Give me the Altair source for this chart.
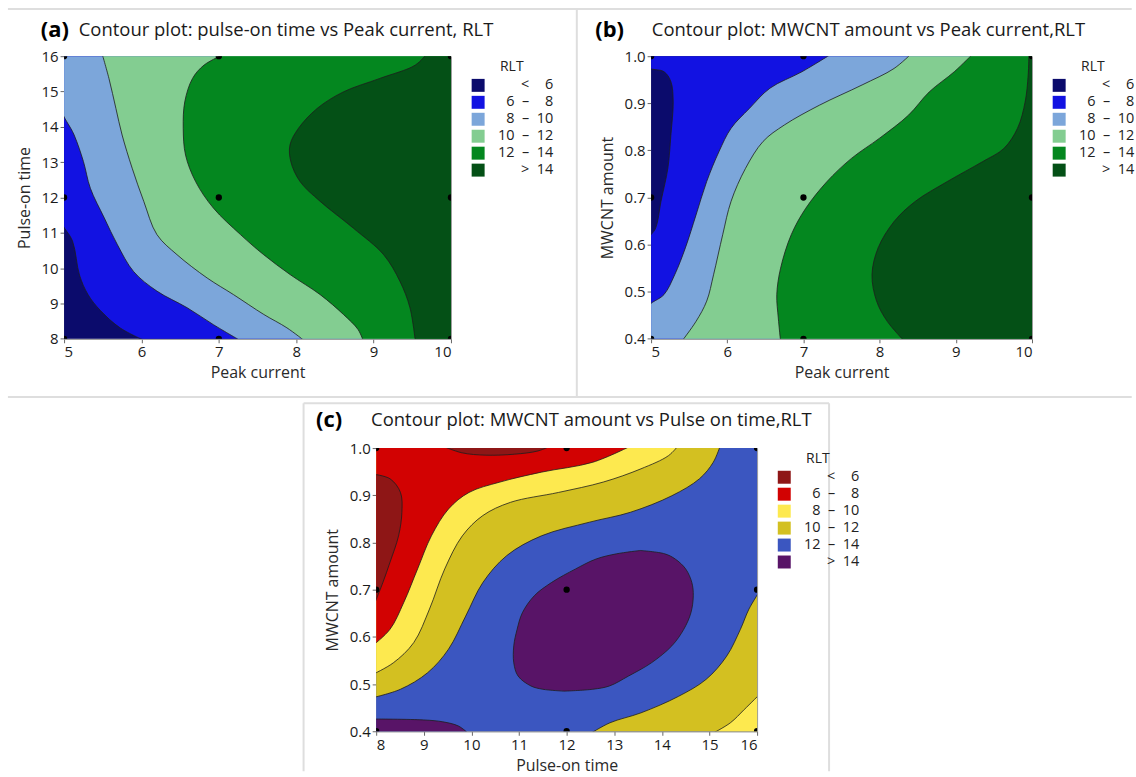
import altair as alt
import pandas as pd

FONT = "Open Sans"
NB = "\u00a0"
FIG = "\u2007"

# ---------------- legend categories and colours ----------------
BANDS = [f"<{NB*2}{FIG}6", f"6{NB*2}–{NB*2}{FIG}8", f"8{NB*2}–{NB*2}10",
         f"10{NB*2}–{NB*2}12", f"12{NB*2}–{NB*2}14", f">{NB*2}14"]
GREEN_COLORS = ["#0b0b6c", "#1212e2", "#7ca6da", "#83cd91", "#04871f", "#045016"]
RED_COLORS = ["#8e1616", "#d20202", "#fde94f", "#d3c021", "#3b56c0", "#581467"]

# ---------------- panel (a): Peak current (x) vs Pulse-on time (y) ----------------
A_XDOM = [5, 10]
A_YDOM = [8, 16]
A_XTICKS = [5, 6, 7, 8, 9, 10]
A_YTICKS = [8, 9, 10, 11, 12, 13, 14, 15, 16]
A_C6_Y = [8.0, 8.3, 8.8, 9.25, 9.8, 10.76, 11.42, 16.0]
A_C6_X = [6.07, 5.73, 5.47, 5.31, 5.2, 5.11, 5.0, 5.0]
A_C8_Y = [8.0, 8.4, 8.88, 9.35, 9.9, 10.66, 11.42, 12.26, 13.02, 13.77, 14.57, 16.0]
A_C8_X = [7.3, 6.93, 6.59, 6.2, 5.9, 5.69, 5.52, 5.34, 5.25, 5.13, 5.0, 5.0]
A_C10_Y = [8.0, 8.31, 8.69, 9.25, 9.72, 10.38, 10.95, 11.89, 12.83, 13.77, 14.52, 15.37, 16.0]
A_C10_X = [8.12, 7.88, 7.58, 7.19, 6.85, 6.46, 6.2, 6.03, 5.88, 5.75, 5.67, 5.58, 5.49]
A_C12_Y = [8.0, 8.26, 8.69, 9.25, 9.82, 10.38, 10.95, 11.7, 12.45, 13.2, 13.96, 14.71, 15.37, 15.75, 16.0]
A_C12_X = [8.87, 8.8, 8.61, 8.31, 7.92, 7.58, 7.28, 6.93, 6.7, 6.57, 6.54, 6.56, 6.66, 6.81, 7.09]
A_C14_Y = [8.0, 8.88, 9.63, 10.38, 11.13, 11.89, 12.45, 13.02, 13.49, 13.96, 14.52, 14.99, 15.37, 15.75, 16.0]
A_C14_X = [9.54, 9.47, 9.34, 9.13, 8.74, 8.31, 8.05, 7.93, 7.92, 8.03, 8.27, 8.61, 9.08, 9.54, 9.69]
A_PTS_X = [5, 7, 10]
A_PTS_Y = [8, 12, 16]

# ---------------- panel (b): Peak current (x) vs MWCNT amount (y) ----------------
B_XDOM = [5, 10]
B_YDOM = [0.4, 1.0]
B_XTICKS = [5, 6, 7, 8, 9, 10]
B_YTICKS = [0.4, 0.5, 0.6, 0.7, 0.8, 0.9, 1.0]
B_C6_Y = [0.4, 0.607, 0.635, 0.692, 0.762, 0.833, 0.903, 0.946, 0.967, 0.977, 1.0]
B_C6_X = [5.0, 5.0, 5.06, 5.13, 5.22, 5.26, 5.29, 5.26, 5.17, 5.0, 5.0]
B_C8_Y = [0.4, 0.466, 0.494, 0.536, 0.593, 0.663, 0.734, 0.797, 0.847, 0.889, 0.932, 0.967, 1.0]
B_C8_X = [5.0, 5.0, 5.17, 5.31, 5.45, 5.59, 5.73, 5.89, 6.05, 6.29, 6.56, 6.98, 7.38]
B_C10_Y = [0.4, 0.437, 0.48, 0.536, 0.621, 0.692, 0.762, 0.819, 0.854, 0.896, 0.939, 0.974, 1.0]
B_C10_X = [5.40, 5.59, 5.73, 5.82, 5.94, 6.05, 6.24, 6.47, 6.75, 7.21, 7.77, 8.19, 8.42]
B_C12_Y = [0.4, 0.444, 0.494, 0.55, 0.621, 0.677, 0.734, 0.783, 0.826, 0.875, 0.924, 0.967, 1.0]
B_C12_X = [6.70, 6.67, 6.65, 6.70, 6.84, 7.03, 7.31, 7.63, 8.0, 8.38, 8.65, 8.98, 9.23]
B_C14_Y = [0.4, 0.437, 0.48, 0.536, 0.593, 0.649, 0.692, 0.734, 0.776, 0.804, 0.847, 0.903, 0.96, 1.0]
B_C14_X = [8.33, 8.10, 7.96, 7.90, 7.98, 8.19, 8.47, 8.89, 9.35, 9.63, 9.81, 9.91, 9.95, 9.96]
B_PTS_X = [5, 7, 10]
B_PTS_Y = [0.4, 0.7, 1.0]

# ---------------- panel (c): Pulse-on time (x) vs MWCNT amount (y) ----------------
C_XDOM = [8, 16]
C_YDOM = [0.4, 1.0]
C_XTICKS = [8, 9, 10, 11, 12, 13, 14, 15, 16]
C_YTICKS = [0.4, 0.5, 0.6, 0.7, 0.8, 0.9, 1.0]
C_TL12_Y = [0.471, 0.489, 0.524, 0.574, 0.644, 0.715, 0.772, 0.814, 0.843, 0.864, 0.899, 0.935, 0.970, 1.0]
C_TL12_X = [8.0, 8.51, 9.08, 9.52, 9.88, 10.24, 10.74, 11.47, 12.48, 13.34, 14.21, 14.79, 15.08, 15.23]
C_TL10_Y = [0.520, 0.545, 0.588, 0.659, 0.744, 0.814, 0.857, 0.885, 0.906, 0.928, 0.956, 0.984, 1.0]
C_TL10_X = [8.0, 8.36, 8.79, 9.12, 9.44, 9.81, 10.24, 10.82, 11.83, 12.77, 13.56, 14.14, 14.35]
C_TL8_Y = [0.581, 0.616, 0.673, 0.744, 0.814, 0.871, 0.906, 0.928, 0.949, 0.970, 1.0]
C_TL8_X = [8.0, 8.29, 8.58, 8.87, 9.16, 9.52, 9.95, 10.6, 11.47, 12.55, 13.38]
C_TL6_Y = [0.659, 0.715, 0.758, 0.814, 0.864, 0.906, 0.935, 0.945]
C_TL6_X = [8.0, 8.14, 8.29, 8.47, 8.54, 8.51, 8.29, 8.0]
C_TOP6_X = [9.35, 9.8, 10.3, 10.9, 11.4, 11.7]
C_TOP6_Y = [1.0, 0.99, 0.985, 0.987, 0.994, 1.0]
C_BR12_Y = [0.4, 0.418, 0.439, 0.474, 0.51, 0.559, 0.616, 0.659, 0.701]
C_BR12_X = [12.48, 12.91, 13.56, 14.35, 14.93, 15.36, 15.65, 15.83, 16.0]
C_BR10_Y = [0.4, 0.418, 0.446, 0.481]
C_BR10_X = [15.04, 15.44, 15.73, 16.0]
C_E14_Y = [0.485, 0.489, 0.496, 0.517, 0.545, 0.581, 0.616, 0.651, 0.687, 0.715, 0.744, 0.765, 0.776, 0.783]
C_E14_XL = [11.95, 11.5, 11.25, 10.98, 10.89, 10.89, 10.96, 11.07, 11.32, 11.68, 12.19, 12.62, 13.05, 13.55]
C_E14_XR = [11.95, 12.55, 12.9, 13.3, 13.78, 14.21, 14.46, 14.61, 14.66, 14.63, 14.5, 14.28, 14.06, 13.55]
C_S14_Y = [0.4, 0.411, 0.42, 0.424, 0.426]
C_S14_X = [9.95, 9.73, 9.4, 9.0, 8.0]
C_PTS_X = [8, 12, 16]
C_PTS_Y = [0.4, 0.7, 1.0]

LINE = "#1e1e1e"
BOX = "#dedede"


def edge(vals, dom):
    """push values lying on the plot border just outside it (so border strokes get clipped)"""
    lo, hi = dom
    e = (hi - lo) * 0.01
    return [lo - e if v <= lo else (hi + e if v >= hi else v) for v in vals]


def make_panel(xdom, ydom, xticks, yticks, yfmt, xtitle, ytitle, colors, layers, pts,
               w, h, letter, title, letter_dx, title_dx, title_dy, extra=None):
    xs = alt.Scale(domain=xdom, nice=False, zero=False)
    ys = alt.Scale(domain=ydom, nice=False, zero=False)
    xa = alt.Axis(values=xticks, format="d", title=xtitle)
    ya = alt.Axis(values=yticks, format=yfmt, title=ytitle)
    leg = alt.Legend(title="RLT", orient="none", legendX=w + 20, legendY=4,
                     symbolType="square", symbolSize=169, symbolStrokeWidth=0,
                     labelAlign="right", labelOffset=68, titleAnchor="middle",
                     titleFontWeight="normal", titleFontSize=14, labelFontSize=14.5,
                     rowPadding=2, padding=0, titlePadding=4,
                     labelFont=FONT, titleFont=FONT, labelColor="#222", titleColor="#222")
    col = alt.Color("band:N", scale=alt.Scale(domain=BANDS, range=colors), legend=leg)
    out = []
    for kind, a, b, c, band in layers:
        if kind == "h":
            df = pd.DataFrame({"y": edge(a, ydom), "x": edge(b, xdom), "x2": edge(c, xdom), "band": band})
            m = alt.Chart(df).mark_area(orient="horizontal", interpolate="catmull-rom", clip=True,
                                        stroke=LINE, strokeWidth=0.8)
            out.append(m.encode(y=alt.Y("y:Q", scale=ys, axis=ya), x=alt.X("x:Q", scale=xs, axis=xa),
                                x2="x2:Q", color=col))
        else:
            df = pd.DataFrame({"x": edge(a, xdom), "y": edge(b, ydom), "y2": edge(c, ydom), "band": band})
            m = alt.Chart(df).mark_area(orient="vertical", interpolate="catmull-rom", clip=True,
                                        stroke=LINE, strokeWidth=0.8)
            out.append(m.encode(x=alt.X("x:Q", scale=xs, axis=xa), y=alt.Y("y:Q", scale=ys, axis=ya),
                                y2="y2:Q", color=col))
    px, py = pts
    dots = pd.DataFrame([{"x": a, "y": b} for a in px for b in py])
    out.append(alt.Chart(dots).mark_circle(size=40, color="black", opacity=1, clip=True).encode(
        x=alt.X("x:Q", scale=xs, axis=xa), y=alt.Y("y:Q", scale=ys, axis=ya)))
    one = pd.DataFrame({"k": [0]})
    out.append(alt.Chart(one).mark_text(text=letter, align="left", baseline="middle", fontSize=22,
                                        fontWeight="bold", font=FONT, color="black").encode(
        x=alt.value(letter_dx), y=alt.value(title_dy)))
    out.append(alt.Chart(one).mark_text(text=title, align="left", baseline="middle", fontSize=18.5,
                                        font=FONT, color="#1a1a1a").encode(
        x=alt.value(title_dx), y=alt.value(title_dy)))
    for (x1, x2, y1, y2) in (extra or []):
        out.append(alt.Chart(one).mark_rule(color=BOX, strokeWidth=2).encode(
            x=alt.value(x1), x2=alt.value(x2), y=alt.value(y1), y2=alt.value(y2)))
    return alt.layer(*out).properties(width=w, height=h)


def std_layers(c6, c8, c10, c12, c14, xdom, ydom):
    full_y = [ydom[0], ydom[1]]
    L = [("h", full_y, [xdom[0]] * 2, [xdom[1]] * 2, BANDS[0])]
    for (yy, xx), band in zip([c6, c8, c10, c12, c14], BANDS[1:]):
        L.append(("h", yy, xx, [xdom[1]] * len(yy), band))
    return L


A_layers = std_layers((A_C6_Y, A_C6_X), (A_C8_Y, A_C8_X), (A_C10_Y, A_C10_X),
                      (A_C12_Y, A_C12_X), (A_C14_Y, A_C14_X), A_XDOM, A_YDOM)
B_layers = std_layers((B_C6_Y, B_C6_X), (B_C8_Y, B_C8_X), (B_C10_Y, B_C10_X),
                      (B_C12_Y, B_C12_X), (B_C14_Y, B_C14_X), B_XDOM, B_YDOM)
C_layers = [
    ("h", C_YDOM, [C_XDOM[0]] * 2, [C_XDOM[1]] * 2, BANDS[4]),
    ("h", C_TL12_Y, [C_XDOM[0]] * len(C_TL12_Y), C_TL12_X, BANDS[3]),
    ("h", C_TL10_Y, [C_XDOM[0]] * len(C_TL10_Y), C_TL10_X, BANDS[2]),
    ("h", C_TL8_Y, [C_XDOM[0]] * len(C_TL8_Y), C_TL8_X, BANDS[1]),
    ("h", C_TL6_Y, [C_XDOM[0]] * len(C_TL6_Y), C_TL6_X, BANDS[0]),
    ("v", C_TOP6_X, C_TOP6_Y, [C_YDOM[1]] * len(C_TOP6_X), BANDS[0]),
    ("h", C_BR12_Y, C_BR12_X, [C_XDOM[1]] * len(C_BR12_Y), BANDS[3]),
    ("h", C_BR10_Y, C_BR10_X, [C_XDOM[1]] * len(C_BR10_Y), BANDS[2]),
    ("h", C_E14_Y, C_E14_XL, C_E14_XR, BANDS[5]),
    ("h", C_S14_Y, [C_XDOM[0]] * len(C_S14_Y), C_S14_X, BANDS[5]),
]

# panel boxes (page decoration), in pixels relative to each plot's origin
A_BOX = [(-56.3, 1070.7, -47.3, -47.3), (514.2, 514.2, -47.3, 341.7), (-56.3, 1070.7, 341.7, 341.7)]
C_BOX = [(-72.8, 454.2, -45, -45), (-72.8, -72.8, -45, 324), (454.2, 454.2, -45, 324)]

A = make_panel(A_XDOM, A_YDOM, A_XTICKS, A_YTICKS, "d", "Peak current", "Pulse-on time", GREEN_COLORS,
               A_layers, (A_PTS_X, A_PTS_Y), 388, 283.4, "(a)",
               "Contour plot: pulse-on time vs Peak current, RLT", -23.3, 14.7, -26.3, A_BOX)
B = make_panel(B_XDOM, B_YDOM, B_XTICKS, B_YTICKS, ".1f", "Peak current", "MWCNT amount", GREEN_COLORS,
               B_layers, (B_PTS_X, B_PTS_Y), 382, 283.4, "(b)",
               "Contour plot: MWCNT amount vs Peak current,RLT", -56, 0.7, -26.3)
C = make_panel(C_XDOM, C_YDOM, C_XTICKS, C_YTICKS, ".1f", "Pulse-on time", "MWCNT amount", RED_COLORS,
               C_layers, (C_PTS_X, C_PTS_Y), 382, 284, "(c)",
               "Contour plot: MWCNT amount vs Pulse on time,RLT", -60.3, -5.1, -28, C_BOX)

spacer = alt.Chart(pd.DataFrame({"k": [0]})).mark_point(opacity=0).encode(
    x=alt.value(50), y=alt.value(5)).properties(width=312.5, height=10,
                                                view=alt.ViewBackground(strokeOpacity=0))

row1 = alt.hconcat(A, B, spacing=200.7, bounds="flush").resolve_scale(color="independent")
row2 = alt.hconcat(spacer, C, spacing=0, bounds="flush").resolve_scale(color="independent")
chart = alt.vconcat(row1, row2, spacing=2).resolve_scale(color="independent").properties(
    padding={"left": 6.25, "top": 6.25, "right": 0, "bottom": 0}, background="white"
).configure(font=FONT).configure_view(stroke="#9a9a9a", strokeWidth=1).configure_axis(
    labelFont=FONT, titleFont=FONT, labelFontSize=15, titleFontSize=16, titleFontWeight="normal",
    labelColor="#1a1a1a", titleColor="#2a2a2a", grid=False, domain=True, domainColor="#9a9a9a",
    tickColor="#666", tickSize=4, labelPadding=2, zindex=1
).configure_axisX(titlePadding=5).configure_axisY(titlePadding=9)

chart.save("out.html", embed_options={"renderer": "svg", "actions": False})
